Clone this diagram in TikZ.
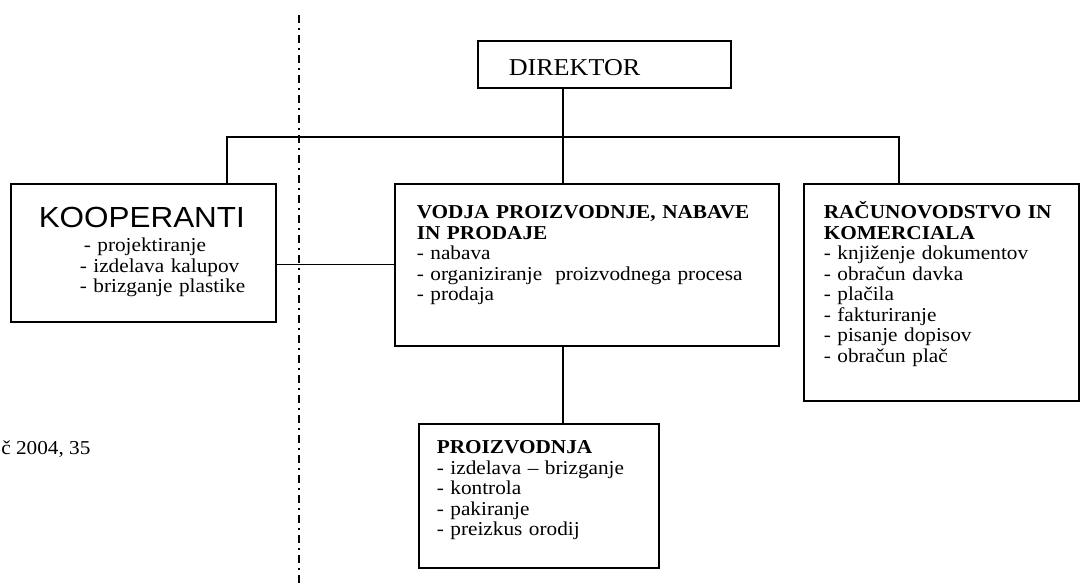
\documentclass[tikz,border=0pt]{standalone}
\usepackage{fontspec}
\setmainfont{Liberation Serif}[FakeStretch=1.08]
\newfontfamily\koopfont{Liberation Sans}[FakeStretch=1.08]
\usetikzlibrary{positioning}

\newcommand{\bodysize}{\fontsize{14}{14.6}\selectfont\lineskiplimit=-10pt}

\begin{document}
\begin{tikzpicture}[
    x=0.25mm, y=-0.25mm,
    box/.style={rectangle, draw=black, line width=1.1pt, anchor=north west, align=left, inner ysep=0pt, font=\bodysize},
    line/.style={draw, line width=0.9pt},
    border/.style={draw, line width=1.3pt, dash pattern=on 2mm off 1.25mm on 0.5mm off 1.25mm}
  ]
    \useasboundingbox (0,0) rectangle (1080,587);

    \node (direktor) [box, inner xsep=7.75mm, text width=47.75mm, text height=8.75mm, text depth=3mm, font=\fontsize{17.2}{20}\selectfont] at (477,40) {DIREKTOR};
    \node (kooperanti) [box, inner xsep=2mm, text width=62.25mm, text height=11mm, text depth=23.5mm] at (10,183)
      {\hspace*{5mm}{\koopfont\fontsize{20.7}{22}\selectfont KOOPERANTI}\\[0.8mm]
       \hspace*{16.25mm}- projektiranje\\
       \hspace*{15.25mm}- izdelava kalupov\\
       \hspace*{15.25mm}- brizganje plastike};
    \node (vodja) [box, inner xsep=5.5mm, text width=85mm, text height=8.75mm, text depth=31.75mm] at (394,183)
      {\textbf{VODJA PROIZVODNJE, NABAVE}\\
       \textbf{IN PRODAJE}\\
       - nabava\\
       - organiziranje\ \ proizvodnega procesa\\
       - prodaja};
    \node (racun) [box, inner xsep=5mm, text width=58.75mm, text height=8.75mm, text depth=45.5mm] at (803,183)
      {\textbf{RAČUNOVODSTVO IN}\\
       \textbf{KOMERCIALA}\\
       - knjiženje dokumentov\\
       - obračun davka\\
       - plačila\\
       - fakturiranje\\
       - pisanje dopisov\\
       - obračun plač};
    \node (proizvodnja) [box, inner xsep=4.5mm, text width=51mm, text height=7.5mm, text depth=28.5mm] at (418,423)
      {\textbf{PROIZVODNJA}\\
       - izdelava -- brizganje\\
       - kontrola\\
       - pakiranje\\
       - preizkus orodij};
    \node (vir) [anchor=base west, inner sep=0pt, font=\bodysize] at (1,454) {č 2004, 35};

    % organigram lines
    \coordinate (barl) at (227,137);
    \coordinate (barr) at (899,137);
    \coordinate (spine) at (563,137);
    \draw[line] (kooperanti.north -| barl) -- (barl) -- (barr) -- (racun.north -| barr);
    \draw[line] (direktor.south -| spine) -- (vodja.north -| spine);
    \draw[line] (vodja.south -| spine) -- (proizvodnja.north -| spine);
    \draw[line] (kooperanti.east |- vodja.west) -- (vodja.west);

    % boundary
    \coordinate (mejatop) at (299,15);
    \coordinate (mejabot) at (299,587);
    \draw[border] (mejatop) -- (mejabot);
  \end{tikzpicture}
\end{document}
